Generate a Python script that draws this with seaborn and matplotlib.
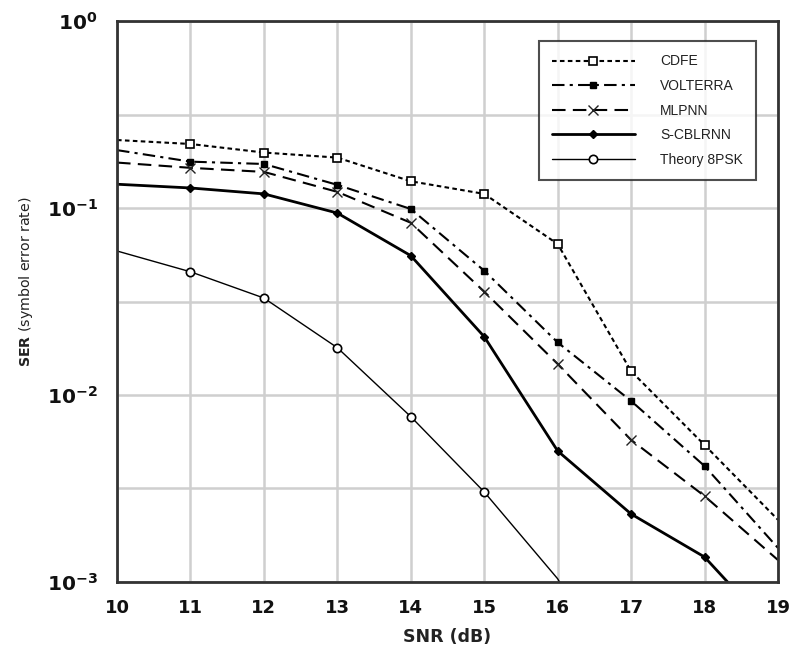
import numpy as np
import pandas as pd
import matplotlib
matplotlib.use("Agg")
import matplotlib.pyplot as plt
import seaborn as sns

# SNR axis (dB)
snr = [10, 11, 12, 13, 14, 15, 16, 17, 18, 19]

# Symbol error rate per equalizer
ser_cdfe = [0.231, 0.220, 0.198, 0.186, 0.139, 0.119, 0.0642, 0.0134, 0.0054, 0.00215]
ser_volterra = [0.204, 0.177, 0.172, 0.133, 0.0988, 0.0462, 0.0191, 0.00929, 0.00417, 0.00152]
ser_mlpnn = [0.175, 0.164, 0.156, 0.122, 0.0834, 0.0357, 0.01465, 0.00575, 0.00288, 0.00131]
ser_scblrnn = [0.134, 0.128, 0.119, 0.094, 0.0556, 0.0205, 0.00502, 0.00231, 0.00136, 0.00051]
snr_theory = [10, 11, 12, 13, 14, 15, 16, 17]
ser_theory = [0.0589, 0.0456, 0.0330, 0.0179, 0.00766, 0.00303, 0.00104, 0.00022]

series_names = ["CDFE", "VOLTERRA", "MLPNN", "S-CBLRNN", "Theory 8PSK"]

x_ticks = [10, 11, 12, 13, 14, 15, 16, 17, 18, 19]
y_decades = [-3, -2, -1, 0]

sns.set_theme(style="white")
plt.rcParams["font.family"] = ["DejaVu Sans"]

fig = plt.figure(figsize=(7.95, 6.47), dpi=100)
ax = fig.add_axes([0.1472, 0.1005, 0.8314, 0.8670])

styles = {
    "CDFE": dict(ls=(0, (2.2, 1.6)), lw=1.5, marker="s", ms=5.5, mfc="white", mec="black", mew=1.2,
                 markevery=slice(1, 9)),
    "VOLTERRA": dict(ls=(0, (6, 2.5, 1.5, 2.5)), lw=1.5, marker="s", ms=5, mfc="black", mec="black",
                     markevery=slice(1, 9)),
    "MLPNN": dict(ls=(0, (6.5, 3.5)), lw=1.5, marker="x", ms=7, mec="#222222", mew=1.0,
                  markevery=slice(1, 9)),
    "S-CBLRNN": dict(ls="-", lw=2.0, marker="D", ms=4.5, mfc="black", mec="black",
                     markevery=slice(1, 9)),
    "Theory 8PSK": dict(ls="-", lw=1.0, marker="o", ms=6, mfc="white", mec="black", mew=1.2,
                        markevery=slice(1, 6)),
}

data = {
    "CDFE": (snr, ser_cdfe),
    "VOLTERRA": (snr, ser_volterra),
    "MLPNN": (snr, ser_mlpnn),
    "S-CBLRNN": (snr, ser_scblrnn),
    "Theory 8PSK": (snr_theory, ser_theory),
}

for name in series_names:
    xs, ys = data[name]
    df = pd.DataFrame({"snr": xs, "ser": ys})
    st = styles[name]
    sns.lineplot(data=df, x="snr", y="ser", ax=ax, color="black", label=name,
                 linestyle=st["ls"], linewidth=st["lw"], marker=st["marker"],
                 markersize=st["ms"], markerfacecolor=st.get("mfc", "black"),
                 markeredgecolor=st["mec"], markeredgewidth=st.get("mew", 1.0),
                 markevery=st["markevery"], legend=False)

ax.set_yscale("log")
ax.set_xlim(10, 19)
ax.set_ylim(1e-3, 1)

ax.set_xticks(x_ticks)
ax.set_xticklabels([str(t) for t in x_ticks], fontsize=13, fontweight="bold", color="#111111")
ax.set_yticks([10.0 ** d for d in y_decades])
ax.set_yticklabels([r"$\mathbf{10^{%d}}$" % d for d in y_decades], fontsize=14.5, color="#111111")
ax.set_yticks([10.0 ** (d + 0.5) for d in y_decades[:-1]], minor=True)
ax.yaxis.set_minor_formatter(matplotlib.ticker.NullFormatter())
ax.tick_params(axis="both", which="both", length=0)
ax.tick_params(axis="x", pad=12)
ax.tick_params(axis="y", pad=14)

ax.grid(True, which="both", color="#cfcfcf", linewidth=1.8)
ax.set_axisbelow(True)
for sp in ax.spines.values():
    sp.set_color("#333333")
    sp.set_linewidth(2.0)

ax.set_xlabel("SNR (dB)", fontsize=12.5, fontweight="bold", color="#222222", labelpad=8)
ax.set_ylabel(r"$\mathbf{SER}$ (symbol error rate)", fontsize=10.2, color="#222222")
ax.yaxis.set_label_coords(-0.124, 0.535)

handles = ax.get_lines()[:len(series_names)]
leg = ax.legend(handles, series_names, loc="upper right", bbox_to_anchor=(0.967, 0.964),
                borderaxespad=0, frameon=True, fancybox=False, shadow=False,
                handlelength=6.0, handletextpad=1.8, labelspacing=0.76, borderpad=0.95,
                prop={"family": "Liberation Sans", "size": 10}, numpoints=1,
                markerfirst=True)
leg.get_frame().set_edgecolor("#222222")
leg.get_frame().set_linewidth(1.5)
for t in leg.get_texts():
    t.set_color("#222222")
for lh in leg.get_lines():
    n = len(lh.get_xdata())
    lh.set_markevery([n // 2])

fig.savefig("out.png", dpi=100, facecolor="white")
